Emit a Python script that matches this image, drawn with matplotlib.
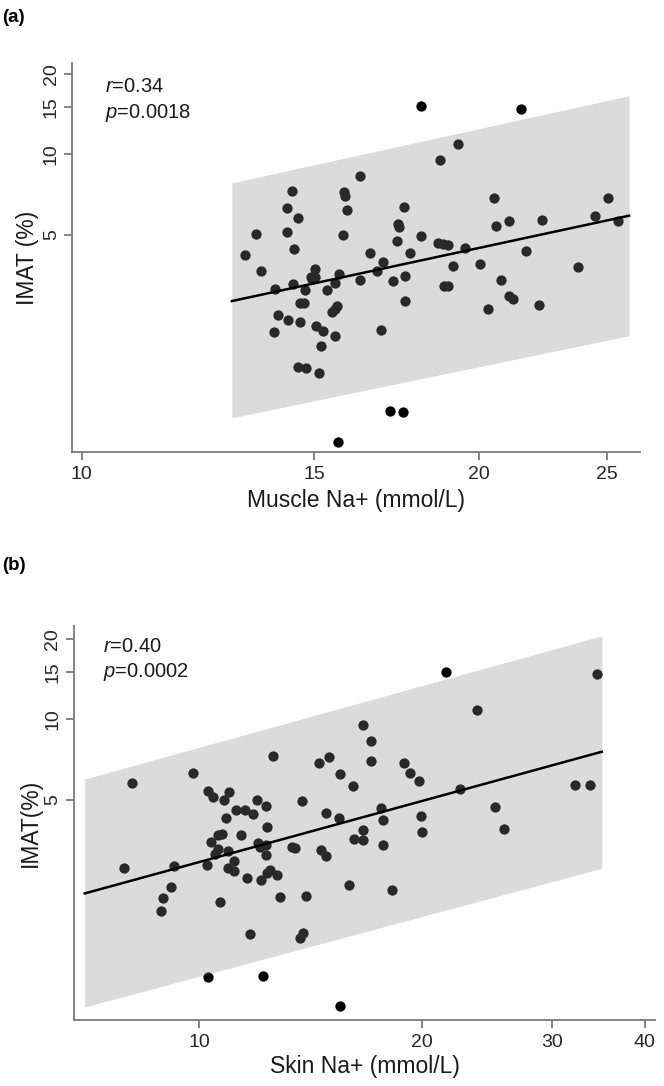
import matplotlib
matplotlib.use("Agg")
import matplotlib.pyplot as plt
from matplotlib.ticker import NullLocator

plt.rcParams['font.family'] = ['Liberation Sans', 'DejaVu Sans']
plt.rcParams['mathtext.fontset'] = 'custom'
plt.rcParams['mathtext.it'] = 'Liberation Sans:italic'
plt.rcParams['mathtext.rm'] = 'Liberation Sans'

# ---- panel (a): muscle Na+ vs IMAT ----
muscle_na = [18.07, 21.53, 19.29, 18.70, 16.26, 14.44, 15.81, 15.83, 20.55, 25.08,
             17.54, 14.31, 15.90, 14.58, 21.10, 22.32, 24.48, 25.51, 17.36, 17.39,
             20.60, 13.56, 14.30, 15.77, 18.09, 17.34, 18.62, 18.80, 18.94, 14.49,
             19.52, 21.71, 13.30, 16.55, 17.75, 16.93, 19.12, 20.03, 23.80, 15.03,
             13.67, 16.74, 14.92, 15.04, 14.95, 15.68, 17.59, 20.80, 16.26, 17.21,
             15.55, 14.46, 14.02, 14.76, 15.36, 18.81, 18.95, 21.07, 21.23, 17.59,
             22.21, 14.64, 14.74, 15.62, 15.55, 15.49, 20.31, 14.09, 14.33, 14.64,
             15.05, 15.23, 13.98, 16.85, 15.56, 15.18, 14.58, 14.80, 15.14, 17.13,
             17.52, 15.64]
imat_a = [15.18, 14.81, 10.94, 9.56, 8.28, 7.28, 7.23, 6.98, 6.90, 6.88,
          6.34, 6.30, 6.21, 5.76, 5.64, 5.69, 5.90, 5.64, 5.51, 5.34,
          5.42, 5.03, 5.14, 4.99, 4.97, 4.74, 4.65, 4.64, 4.57, 4.44,
          4.48, 4.37, 4.19, 4.27, 4.29, 3.97, 3.83, 3.88, 3.78, 3.72,
          3.65, 3.67, 3.49, 3.47, 3.43, 3.58, 3.52, 3.40, 3.39, 3.35,
          3.31, 3.27, 3.15, 3.11, 3.10, 3.21, 3.22, 2.96, 2.87, 2.84,
          2.74, 2.78, 2.78, 2.71, 2.65, 2.57, 2.64, 2.52, 2.40, 2.36,
          2.29, 2.18, 2.16, 2.20, 2.09, 1.92, 1.60, 1.59, 1.53, 1.10,
          1.09, 0.839]
fit_a_x = [13.0, 26.0]
fit_a_y = [2.83, 5.90]
band_a_lo = [1.036, 2.10]
band_a_hi = [7.83, 16.57]

# ---- panel (b): skin Na+ vs IMAT ----
skin_na = [21.57, 34.44, 23.72, 16.62, 17.04, 12.59, 14.95, 14.50, 17.06, 18.93,
           9.80, 15.47, 19.26, 8.12, 19.80, 16.14, 32.21, 33.77, 22.50, 10.27,
           10.98, 10.43, 10.79, 11.95, 13.78, 12.32, 11.20, 11.53, 11.81, 17.58,
           25.13, 14.81, 10.87, 15.45, 17.70, 19.93, 12.36, 16.63, 25.80, 20.01,
           10.61, 10.72, 11.39, 10.38, 12.00, 12.06, 16.16, 16.62, 12.32, 13.33,
           13.47, 17.70, 10.61, 10.51, 10.94, 14.60, 14.83, 12.30, 11.13, 10.24,
           9.23, 7.91, 10.92, 11.13, 12.46, 12.35, 12.73, 11.61, 12.11, 9.16,
           15.91, 18.24, 8.94, 12.86, 13.94, 10.67, 8.88, 11.70, 13.79, 13.67,
           10.27, 12.19, 15.50]
imat_b = [15.08, 14.73, 10.86, 9.51, 8.29, 7.27, 7.24, 6.87, 6.97, 6.85,
          6.29, 6.24, 6.31, 5.78, 5.88, 5.64, 5.69, 5.69, 5.48, 5.42,
          5.37, 5.14, 5.02, 4.99, 4.97, 4.73, 4.60, 4.60, 4.44, 4.68,
          4.71, 4.49, 4.30, 4.30, 4.21, 4.37, 3.98, 3.85, 3.90, 3.80,
          3.70, 3.72, 3.69, 3.48, 3.46, 3.34, 3.59, 3.54, 3.39, 3.34,
          3.30, 3.41, 3.27, 3.14, 3.22, 3.24, 3.09, 3.11, 2.97, 2.86,
          2.84, 2.79, 2.78, 2.71, 2.73, 2.67, 2.62, 2.56, 2.52, 2.36,
          2.41, 2.31, 2.16, 2.18, 2.19, 2.09, 1.92, 1.58, 1.60, 1.53,
          1.09, 1.10, 0.849]
fit_b_x = [7.0, 35.0]
fit_b_y = [2.24, 7.57]
band_b_lo = [0.844, 2.78]
band_b_hi = [5.99, 20.5]

yticks = [5, 10, 15, 20]


def draw_panel(ax, x, y, fx, fy, lo, hi, xticks, xlim, ylim, xlabel, ylabel,
               r_txt, p_txt, txt_x, ylab_x, xlab_y):
    ax.set_xscale('log')
    ax.set_yscale('log')
    ax.scatter(x, y, s=55, color='black', linewidths=0, zorder=2)
    ax.fill_between(fx, lo, hi, color='#8a8a8a', alpha=0.3, linewidth=0, zorder=3)
    ax.plot(fx, fy, color='black', lw=1.8, zorder=4)
    ax.set_xlim(xlim)
    ax.set_ylim(ylim)

    ax.set_xticks(xticks, [str(t) for t in xticks])
    ax.set_yticks(yticks, [str(t) for t in yticks])
    ax.xaxis.set_minor_locator(NullLocator())
    ax.yaxis.set_minor_locator(NullLocator())

    for s in ['top', 'right']:
        ax.spines[s].set_visible(False)
    for s in ['left', 'bottom']:
        ax.spines[s].set_color('#7a7a7a')
        ax.spines[s].set_linewidth(1.3)
    ax.tick_params(colors='#7a7a7a', length=6, width=1.3, labelsize=14,
                   labelcolor='#262626')
    ax.tick_params(axis='x', pad=4)
    ax.tick_params(axis='y', pad=3, labelrotation=90)
    for lab in ax.get_yticklabels():
        lab.set_va('center')

    ax.set_xlabel(xlabel, fontsize=16.5, color='#1a1a1a')
    ax.set_ylabel(ylabel, fontsize=16.5, color='#1a1a1a')
    ax.xaxis.set_label_coords(0.5, xlab_y)
    ax.yaxis.set_label_coords(ylab_x, 0.5)

    ax.text(txt_x[0], txt_x[1], r_txt, transform=ax.transAxes, fontsize=14.5,
            va='baseline', ha='left', color='#1a1a1a')
    ax.text(txt_x[0], txt_x[2], p_txt, transform=ax.transAxes, fontsize=14.5,
            va='baseline', ha='left', color='#1a1a1a')


W, H = 664, 1086
fig = plt.figure(figsize=(W / 100, H / 100), dpi=100)

ax1 = fig.add_axes([72.3 / W, 1 - 451.7 / H, (640 - 72.3) / W, (451.7 - 63.3) / H])
draw_panel(ax1, muscle_na, imat_a, fit_a_x, fit_a_y, band_a_lo, band_a_hi,
           [10, 15, 20, 25], (9.84, 26.5), (0.774, 21.9),
           'Muscle Na+ (mmol/L)', 'IMAT (%)',
           r'$r$=0.34', r'$p$=0.0018', (0.0576, 0.925, 0.860), -0.059, -0.096)

ax2 = fig.add_axes([74 / W, 1 - 1020.3 / H, (655 - 74) / W, (1020.3 - 626) / H])
draw_panel(ax2, skin_na, imat_b, fit_b_x, fit_b_y, band_b_lo, band_b_hi,
           [10, 20, 30, 40], (6.77, 41.3), (0.753, 22.3),
           'Skin Na+ (mmol/L)', 'IMAT(%)',
           r'$r$=0.40', r'$p$=0.0002', (0.0504, 0.935, 0.871), -0.055, -0.088)

fig.text(2 / W, 1 - 18 / H, '(a)', fontsize=13.5, fontweight='bold', va='center', ha='left')
fig.text(2 / W, 1 - 566 / H, '(b)', fontsize=13.5, fontweight='bold', va='center', ha='left')

fig.savefig('out.png', dpi=100)
